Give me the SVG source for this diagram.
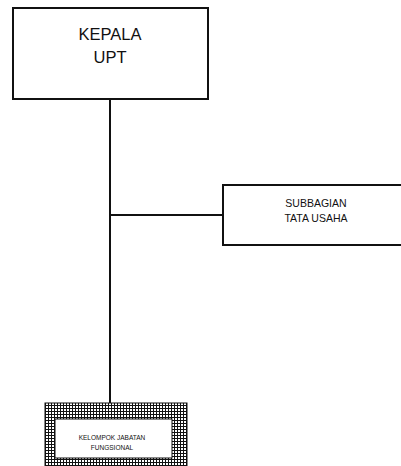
<svg xmlns="http://www.w3.org/2000/svg" width="401" height="466" viewBox="0 0 401 466">
<style>
.box{fill:#fff;stroke:#111;stroke-width:2}
.ln{stroke:#111;stroke-width:2;fill:none}
.t{font-family:"Liberation Sans",Arial,sans-serif;fill:#111;text-anchor:middle}
</style>
<defs>
<pattern id="grid" width="3" height="3" patternUnits="userSpaceOnUse">
<rect width="3" height="3" fill="#fff"/>
<path d="M0 0.5H3M0.5 0V3" stroke="#111" stroke-width="1"/>
</pattern>
</defs>
<rect width="401" height="466" fill="#fff"/>
<g id="connectors">
<line class="ln" x1="110" y1="99" x2="110" y2="403"/>
<line class="ln" x1="110" y1="215" x2="223" y2="215"/>
</g>
<g id="kepala">
<rect class="box" x="13" y="8" width="195" height="91"/>
<text class="t" x="110" y="40" font-size="16.5">KEPALA</text>
<text class="t" x="110" y="63" font-size="16.5">UPT</text>
</g>
<g id="subbagian">
<path class="box" d="M402 185H223V245H402"/>
<text class="t" x="316" y="207" font-size="10.5">SUBBAGIAN</text>
<text class="t" x="316" y="222" font-size="10.5">TATA USAHA</text>
</g>
<g id="kelompok">
<rect x="45" y="403" width="142" height="64" fill="url(#grid)" stroke="#111" stroke-width="1"/>
<rect x="55" y="419" width="117" height="39" fill="#fff" stroke="#111" stroke-width="1"/>
<text class="t" x="112" y="440" font-size="6.5">KELOMPOK JABATAN</text>
<text class="t" x="112" y="450" font-size="6.5">FUNGSIONAL</text>
</g>
</svg>
